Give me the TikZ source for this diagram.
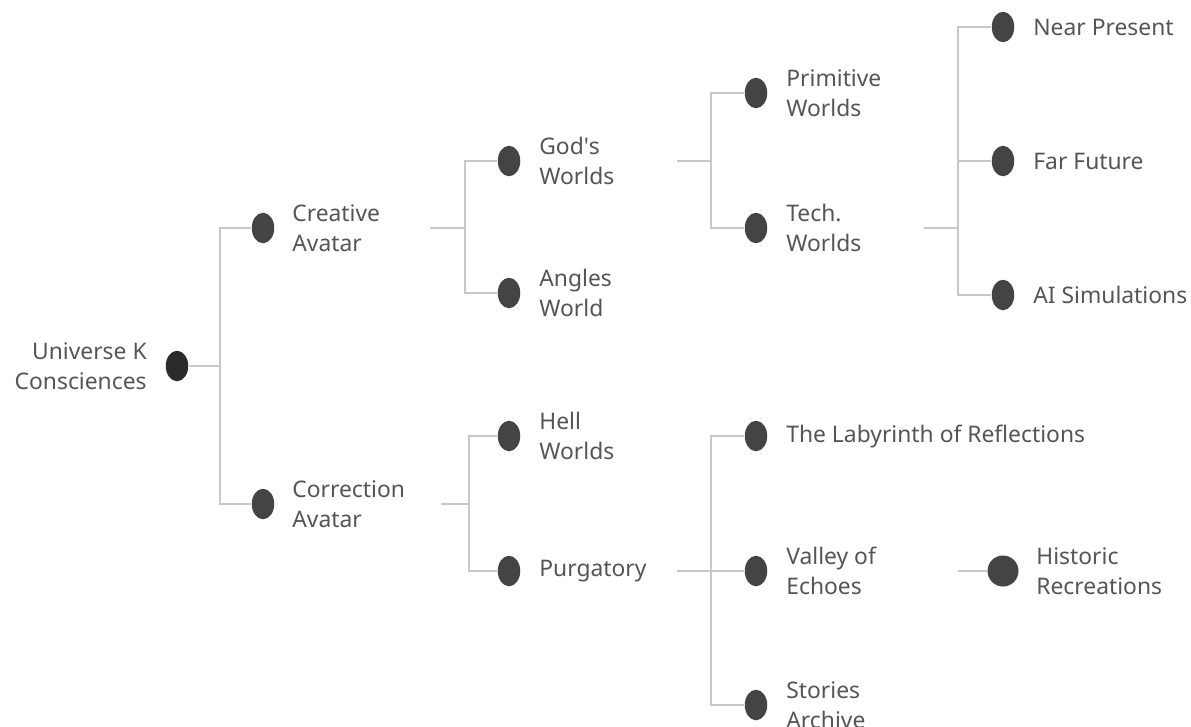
\documentclass[tikz,border=0pt]{standalone}
\usepackage{fontspec}
\setmainfont{Noto Sans}
\usetikzlibrary{shapes.geometric}
\definecolor{dotgray}{HTML}{444444}
\definecolor{rootgray}{HTML}{2B2B2B}
\definecolor{linegray}{HTML}{C8C8C8}
\definecolor{textgray}{HTML}{555555}
\tikzset{
	dot/.style={ellipse,fill=dotgray,inner sep=0pt,minimum width=0.45cm,minimum height=0.61cm},
	bigdot/.style={circle,fill=dotgray,inner sep=0pt,minimum size=0.62cm},
	lbl/.style={anchor=west,align=left,inner sep=0pt,text=textgray,font=\fontsize{13}{17}\selectfont},
	link/.style={draw=linegray,line width=1.1pt}
}
\begin{document}
\begin{tikzpicture}[x=0.02cm,y=-0.02cm]
	\useasboundingbox (0,0) rectangle (1191,727);
	% dots
	\node[dot,fill=rootgray](root) at (177,366){};
	\node[dot](creative) at (263,228){};
	\node[dot](correction) at (263,504){};
	\node[dot](gods) at (509,161){};
	\node[dot](angles) at (509,293){};
	\node[dot](hell) at (509,436){};
	\node[dot](purgatory) at (509,571){};
	\node[dot](primitive) at (756,93){};
	\node[dot](tech) at (756,228){};
	\node[dot](labyrinth) at (756,436){};
	\node[dot](valley) at (756,571){};
	\node[dot](stories) at (756,705){};
	\node[dot](near) at (1003,27){};
	\node[dot](far) at (1003,161){};
	\node[dot](aisim) at (1003,295){};
	\node[bigdot](historic) at (1003,571){};
	% labels
	\node[lbl,anchor=east,align=right](rootlbl) at (147,366){Universe K\\Consciences};
	\node[lbl](creativelbl) at (292,228){Creative\\Avatar};
	\node[lbl](correctionlbl) at (292,504){Correction\\Avatar};
	\node[lbl](godslbl) at (539,161){God\textquotesingle s\\Worlds};
	\node[lbl](angleslbl) at (539,293){Angles\\World};
	\node[lbl](helllbl) at (539,436){Hell\\Worlds};
	\node[lbl](purgatorylbl) at (539,571){Purgatory};
	\node[lbl](primitivelbl) at (786,93){Primitive\\Worlds};
	\node[lbl](techlbl) at (786,228){Tech.\\Worlds};
	\node[lbl](labyrinthlbl) at (786,436){The Labyrinth of Reflections};
	\node[lbl](valleylbl) at (786,571){Valley of\\Echoes};
	\node[lbl](storieslbl) at (786,705){Stories\\Archive};
	\node[lbl](nearlbl) at (1033,27){Near Present};
	\node[lbl](farlbl) at (1033,161){Far Future};
	\node[lbl](aisimlbl) at (1033,295){AI Simulations};
	\node[lbl](historiclbl) at (1036,571){Historic\\Recreations};
	% junctions
	\coordinate(j0) at (220,366);
	\coordinate(s1) at (430,228);
	\coordinate(j1) at (465,228);
	\coordinate(s2) at (441,504);
	\coordinate(j2) at (469,504);
	\coordinate(s3) at (677,161);
	\coordinate(j3) at (711,161);
	\coordinate(s4) at (924,228);
	\coordinate(j4) at (958,228);
	\coordinate(s5) at (677,571);
	\coordinate(j5) at (711,571);
	\coordinate(s6) at (958,571);
	% connectors
	\draw[link](root)--(j0);
	\draw[link](j0)|-(creative);
	\draw[link](j0)|-(correction);
	\draw[link](s1)--(j1);
	\draw[link](j1)|-(gods);
	\draw[link](j1)|-(angles);
	\draw[link](s2)--(j2);
	\draw[link](j2)|-(hell);
	\draw[link](j2)|-(purgatory);
	\draw[link](s3)--(j3);
	\draw[link](j3)|-(primitive);
	\draw[link](j3)|-(tech);
	\draw[link](s4)--(j4);
	\draw[link](j4)|-(near);
	\draw[link](j4)|-(far);
	\draw[link](j4)|-(aisim);
	\draw[link](s5)--(j5);
	\draw[link](j5)|-(labyrinth);
	\draw[link](j5)|-(valley);
	\draw[link](j5)|-(stories);
	\draw[link](s6)--(historic);
\end{tikzpicture}
\end{document}
